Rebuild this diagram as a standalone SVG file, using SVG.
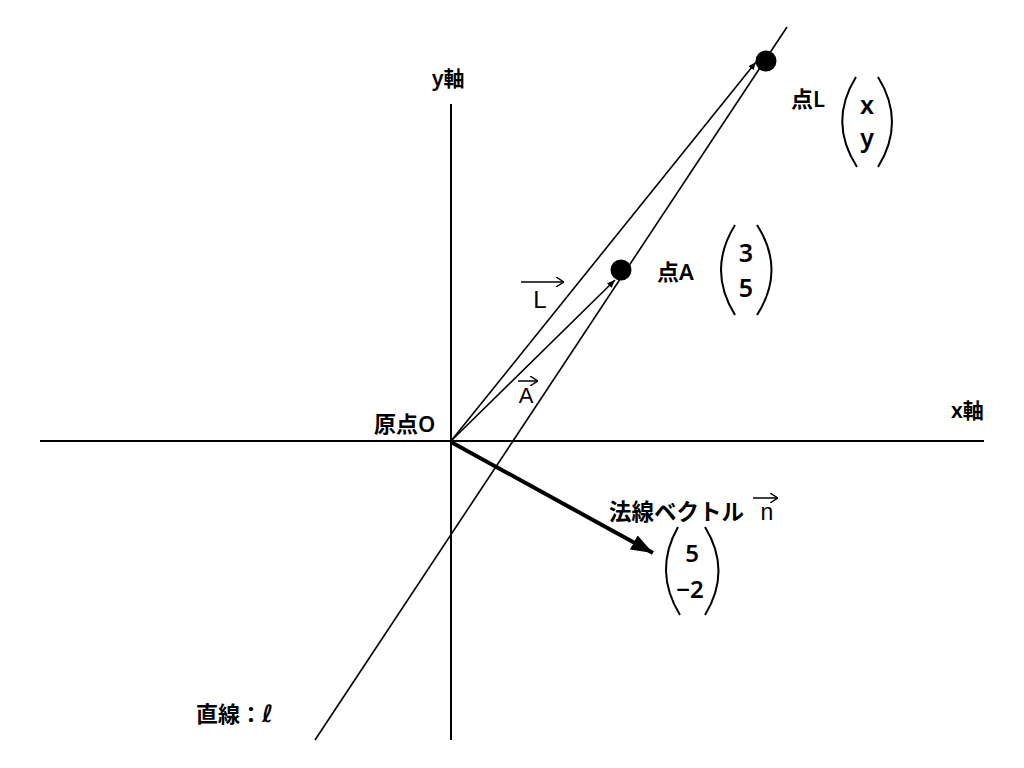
<svg xmlns="http://www.w3.org/2000/svg" width="1024" height="768" viewBox="0 0 1024 768">
<defs>
<style>
.t{font-family:"Noto Sans","Noto Sans CJK JP",sans-serif;font-weight:600;fill:#000}
.v{font-family:"Liberation Sans","Noto Sans",sans-serif;font-weight:normal;fill:#000}
.ln{stroke:#000;fill:none}
.ax{stroke:#000;stroke-width:2;fill:none}
.p{stroke:#000;stroke-width:2;fill:none}
</style>
<marker id="ah" viewBox="0 0 10 10" refX="10" refY="5" markerWidth="8" markerHeight="8" markerUnits="userSpaceOnUse" orient="auto"><path d="M0,1 L10,5 L0,9 Z" fill="#000"/></marker>
<marker id="ahb" viewBox="0 0 10 10" refX="10" refY="5" markerWidth="22" markerHeight="16" markerUnits="userSpaceOnUse" orient="auto" preserveAspectRatio="none"><path d="M0,0 L10,5 L0,10 Z" fill="#000"/></marker>
<marker id="oa" viewBox="0 0 10 10" refX="10" refY="5" markerWidth="8" markerHeight="10" markerUnits="userSpaceOnUse" orient="auto" preserveAspectRatio="none"><path d="M0,0 L10,5 L0,10" fill="none" stroke="#000" stroke-width="1.5"/></marker>
</defs>
<g id="axes">
<line class="ax" x1="40" y1="441" x2="984" y2="441"/>
<line class="ax" x1="451" y1="104" x2="451" y2="740"/>
<text class="t" x="432" y="86" font-size="21">y軸</text>
<text class="t" x="951" y="418" font-size="21">x軸</text>
<text class="t" x="374" y="432" font-size="22">原点O</text>
</g>
<g id="connectors">
<line class="ln" stroke-width="1.6" x1="315" y1="740" x2="787" y2="27"/>
<line class="ln" stroke-width="1.6" x1="451" y1="441" x2="756" y2="62" marker-end="url(#ah)"/>
<line class="ln" stroke-width="1.6" x1="451" y1="441" x2="615" y2="280" marker-end="url(#ah)"/>
<line class="ln" stroke-width="4" x1="451" y1="442" x2="653" y2="553" marker-end="url(#ahb)"/>
</g>
<g id="pointL">
<circle cx="766" cy="61" r="10.5" fill="#000"/>
<text class="t" x="791" y="107" font-size="22">点L</text>
<path class="p" d="M856,77 Q828,122 857,167"/>
<path class="p" d="M878,77 Q906,122 878,167"/>
<text class="t" x="867" y="114" font-size="25" text-anchor="middle">x</text>
<text class="t" x="867" y="147" font-size="25" text-anchor="middle">y</text>
</g>
<g id="pointA">
<circle cx="621" cy="270" r="10.5" fill="#000"/>
<text class="t" x="657" y="280" font-size="22">点A</text>
<path class="p" d="M735,225 Q707,270 735,315"/>
<path class="p" d="M757,225 Q786,270 757,315"/>
<text class="t" x="746" y="262" font-size="25" text-anchor="middle">3</text>
<text class="t" x="746" y="297" font-size="25" text-anchor="middle">5</text>
</g>
<g id="vecL">
<line class="ln" stroke-width="1.5" x1="521" y1="282" x2="564" y2="282" marker-end="url(#oa)"/>
<text class="v" x="540" y="308" font-size="24" text-anchor="middle">L</text>
</g>
<g id="vecA">
<line class="ln" stroke-width="1.5" x1="518" y1="381" x2="538" y2="381" marker-end="url(#oa)"/>
<text class="v" x="526" y="403" font-size="22" text-anchor="middle">A</text>
</g>
<g id="normal">
<text class="t" x="609" y="520" font-size="22.5">法線ベクトル</text>
<line class="ln" stroke-width="1.5" x1="753" y1="498" x2="778" y2="498" marker-end="url(#oa)"/>
<text class="v" x="767" y="520" font-size="23" text-anchor="middle">n</text>
<path class="p" d="M678,527 Q653,571 680,615"/>
<path class="p" d="M705,527 Q732,571 705,615"/>
<text class="t" x="692" y="562" font-size="24" text-anchor="middle">5</text>
<text class="t" x="690" y="598" font-size="24" text-anchor="middle">−2</text>
</g>
<g id="lineLabel">
<text class="t" x="196" y="722" font-size="22">直線：<tspan font-family="DejaVu Sans, sans-serif" font-style="italic" font-weight="bold" font-size="24">ℓ</tspan></text>
</g>
</svg>
